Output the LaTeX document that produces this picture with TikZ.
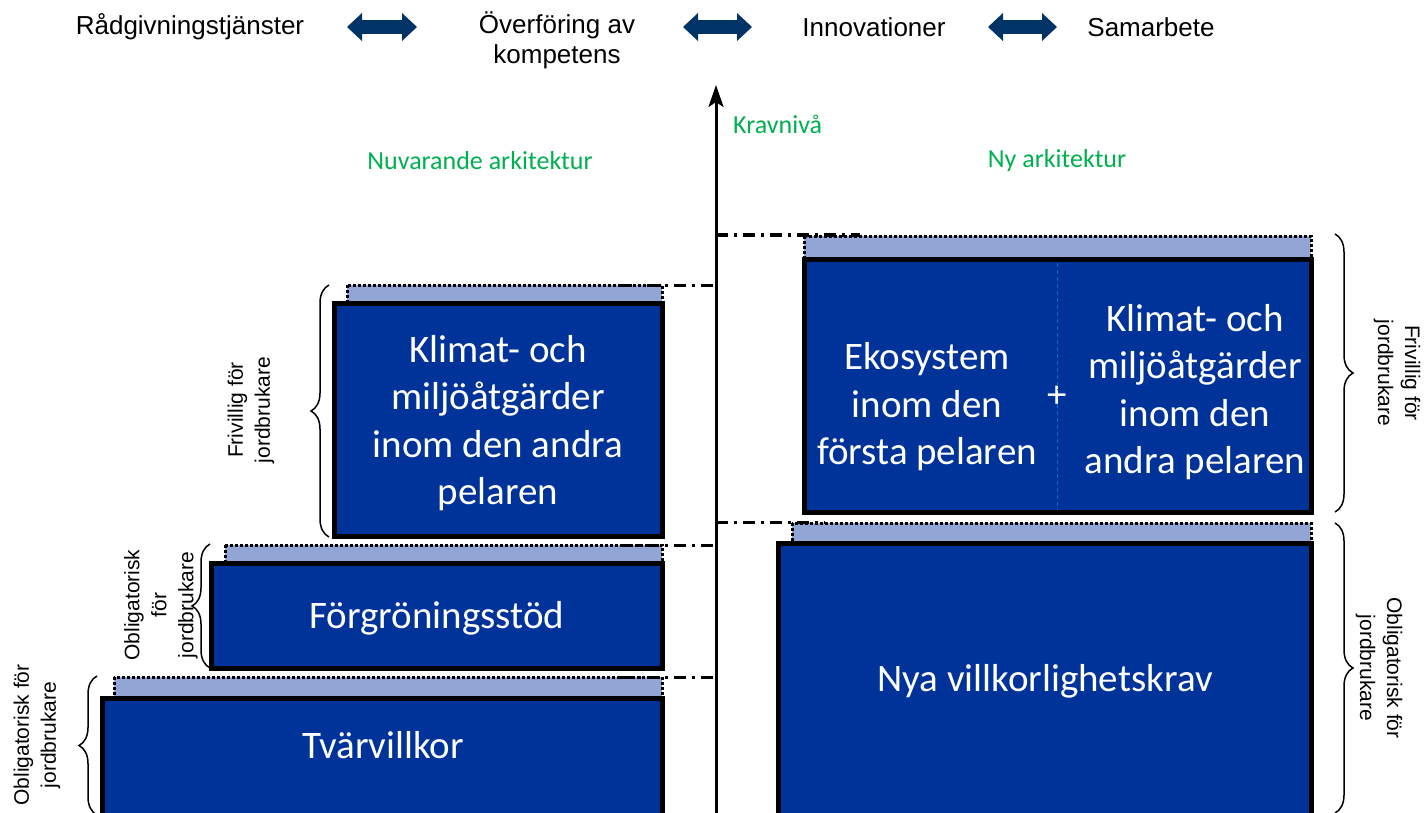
\documentclass[tikz,border=0pt]{standalone}
\usepackage{fontspec}
\setmainfont{Liberation Sans}
\newfontfamily\calfont{Carlito}
\usetikzlibrary{arrows.meta,decorations.pathreplacing}
\definecolor{blokkblaa}{RGB}{0,51,153}
\definecolor{stripeblaa}{RGB}{146,166,214}
\definecolor{pilblaa}{RGB}{0,51,102}
\definecolor{gronn}{RGB}{0,176,80}
\definecolor{skille}{RGB}{0,112,192}
\begin{document}
\begin{tikzpicture}[x=1pt,y=-1pt,
	toppord/.style={font=\fontsize{26}{30}\selectfont,align=center,inner sep=0pt},
	gronnord/.style={font=\calfont\fontsize{26}{30}\selectfont,text=gronn,inner sep=0pt},
	blokktekst/.style={font=\calfont\fontsize{39}{47.5}\selectfont,text=white,align=center,inner sep=0pt},
	sidetekst/.style={font=\fontsize{21}{27}\selectfont,align=center,inner sep=0pt},
	blokk/.style={fill=blokkblaa,draw=black,line width=5pt},
	stripe/.style={fill=stripeblaa,draw=black,line width=3pt,dash pattern=on 3pt off 2pt},
	nivaa/.style={line width=3pt,dash pattern=on 12pt off 6pt on 3pt off 6pt},
	klamme/.style={decorate,decoration={brace,amplitude=18pt},line width=1.5pt},
	dobbelpil/.style={pilblaa,line width=14pt,{Triangle[length=15pt,width=28pt,line width=0pt]}-{Triangle[length=15pt,width=28pt,line width=0pt]}}]
		\useasboundingbox (0,0) rectangle (1424,813);
		\clip (0,0) rectangle (1424,813);
		% top row
		\node[toppord] (raad) at (190,27) {Rådgivningstjänster};
		\node[toppord] (overf) at (557,40) {Överföring av\\kompetens};
		\node[toppord] (innov) at (874,27) {Innovationer};
		\node[toppord] (samarb) at (1151,27) {Samarbete};
		\coordinate (p1) at (347,27);
		\coordinate (q1) at (417,27);
		\coordinate (p2) at (683,27);
		\coordinate (q2) at (752,27);
		\coordinate (p3) at (988,27);
		\coordinate (q3) at (1057,27);
		\draw[dobbelpil] (p1) -- (q1);
		\draw[dobbelpil] (p2) -- (q2);
		\draw[dobbelpil] (p3) -- (q3);
		\node[gronnord] (nuv) at (480,161) {Nuvarande arkitektur};
		\node[gronnord] (nyark) at (1057,161) {Ny arkitektur};
		% strips and blocks
		\draw[stripe] (114,677) rectangle (662,697);
		\draw[blokk] (102,698) rectangle (662,830);
		\draw[stripe] (225,545) rectangle (662,562);
		\draw[blokk] (211,563) rectangle (662,668);
		\draw[stripe] (347,285) rectangle (662,302);
		\draw[blokk] (334,303) rectangle (662,536);
		\draw[stripe] (804,236) rectangle (1311,258);
		\draw[blokk] (804,259) rectangle (1311,512);
		\draw[stripe] (792,523) rectangle (1311,542);
		\draw[blokk] (778,543) rectangle (1311,830);
		\draw[nivaa] (620,677) -- (716,677);
		\draw[nivaa] (620,545) -- (716,545);
		\draw[nivaa] (620,285) -- (716,285);
		\draw[nivaa] (716,235) -- (860,235);
		\draw[nivaa] (716,522) -- (825,522);
		% axis
		\coordinate (akse0) at (716,815);
		\coordinate (akse1) at (716,85);
		\draw[line width=3pt,-{Stealth[length=22pt,width=15pt,inset=5pt]}] (akse0) -- (akse1);
		\node[gronnord,anchor=west] (kravniva) at (733,124) {Kravnivå};
		% block texts
		\node[blokktekst] (tvar) at (383,745) {Tvärvillkor};
		\node[blokktekst] (forgr) at (437,618) {Förgröningsstöd};
		\node[blokktekst] (klimat) at (498,423) {Klimat- och\\miljöåtgärder\\inom den andra\\pelaren};
		\node[blokktekst] (ekosys) at (927,407) {Ekosystem\\inom den\\första pelaren};
		\node[blokktekst] (klimatny) at (1195,392) {Klimat- och\\miljöåtgärder\\inom den\\andra pelaren};
		\node[blokktekst] (nyavillk) at (1045,681) {Nya villkorlighetskrav};
		\node[blokktekst] (pluss) at (1057,397) {+};
		\draw[skille,line width=1pt,dash pattern=on 4pt off 3pt] (1057,263) -- ([yshift=-4pt]pluss.north);
		\draw[skille,line width=1pt,dash pattern=on 4pt off 3pt] ([yshift=4pt]pluss.south) -- (1057,509);
		% braces
		\draw[klamme] (97,815) -- (97,676);
		\draw[klamme] (210,668) -- (210,544);
		\draw[klamme] (329,537) -- (329,285);
		\draw[klamme] (1335,234) -- (1335,512);
		\draw[klamme] (1335,523) -- (1335,813);
		\node[sidetekst,rotate=90] (oblig1) at (37,735) {Obligatorisk för\\jordbrukare};
		\node[sidetekst,rotate=90] (oblig2) at (161,605) {Obligatorisk\\för\\jordbrukare};
		\node[sidetekst,rotate=90] (friv1) at (251,410) {Frivillig för\\jordbrukare};
		\node[sidetekst,rotate=-90] (friv2) at (1397,373) {Frivillig för\\jordbrukare};
		\node[sidetekst,rotate=-90] (oblig3) at (1379,668) {Obligatorisk för\\jordbrukare};
	\end{tikzpicture}
\end{document}
